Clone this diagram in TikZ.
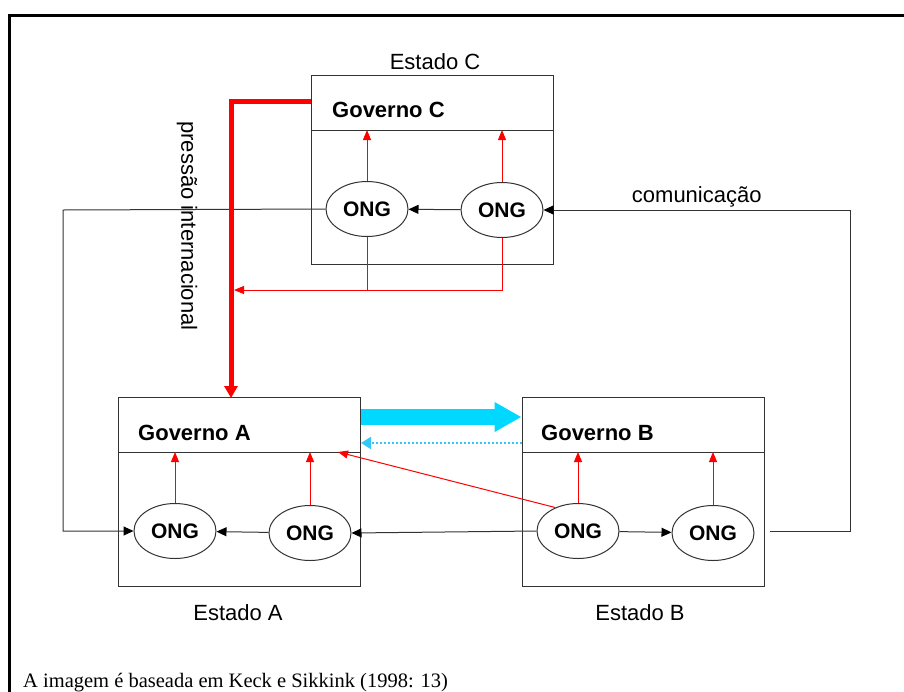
\documentclass[tikz,border=0pt]{standalone}
\usepackage{fontspec}
\setmainfont{Liberation Sans}
\newfontfamily\citefont{Liberation Serif}
\usepackage{xcolor}
\usetikzlibrary{shapes.geometric,arrows.meta,positioning,calc}
\definecolor{RV}{HTML}{FF0000}
\definecolor{CY}{HTML}{00D8FF}
\definecolor{CL}{HTML}{33C8F5}
\definecolor{LN}{HTML}{333333}

\tikzset{
  estado/.style={draw=LN, line width=1pt, minimum width=242pt,
                 minimum height=189pt, inner sep=0pt},
  ong/.style={ellipse, draw=LN, line width=1pt, minimum width=82pt,
              minimum height=55pt, inner sep=0pt,
              font=\fontsize{21}{21}\selectfont\bfseries},
  gov/.style={anchor=west, inner sep=0pt,
              font=\fontsize{22}{22}\selectfont\bfseries},
  rotulo/.style={font=\fontsize{22}{22}\selectfont},
  lig/.style={draw=LN, line width=1pt,
              -{Triangle[length=10pt,width=9pt,color=black]}},
  infl/.style={draw=RV, line width=1pt,
               -{Triangle[length=10pt,width=8pt]}},
  pressao/.style={draw=RV, line width=5pt,
                  -{Triangle[length=12pt,width=13pt]}},
}

\begin{document}
\begin{tikzpicture}[x=1pt,y=-1pt]
  \useasboundingbox (0,0) rectangle (904,691);
  \clip (0,0) rectangle (904,691);
  %% moldura
  \draw[line width=3pt] (9,710) -- (9,15) -- (920,15);

  %% os tres estados
  \node[estado] (estC) at (432,170) {};
  \node[estado] (estA) at (239.5,492) {};
  \node[estado] (estB) at (643,492) {};
  \draw[LN, line width=1pt] (311,130) -- (553,130);
  \draw[LN, line width=1pt] (119,452) -- (360,452);
  \draw[LN, line width=1pt] (522,452) -- (764,452);
  \coordinate (divC) at (311,130);
  \coordinate (divA) at (119,452);
  \coordinate (divB) at (522,452);

  \node[rotulo] (labC) at (435,62) {Estado C};
  \node[rotulo] (labA) at (238,613) {Estado A};
  \node[rotulo] (labB) at (640,613) {Estado B};

  \node[gov] (govC) at (332,110) {Governo C};
  \node[gov] (govA) at (138,433) {Governo A};
  \node[gov] (govB) at (541,433) {Governo B};

  %% ONGs
  \node[ong] (oC1) at (367,209) {ONG};
  \node[ong] (oC2) at (502,210) {ONG};
  \node[ong] (oA1) at (175,531) {ONG};
  \node[ong] (oA2) at (310,533) {ONG};
  \node[ong] (oB1) at (578,531) {ONG};
  \node[ong] (oB2) at (713,533) {ONG};

  %% ONG -> governo
  \foreach \o/\d in {oC1/divC,oC2/divC,oA1/divA,oA2/divA,oB1/divB,oB2/divB}
    \draw[infl] (\o.north) -- (\o.north |- \d);

  %% rede de comunicacao
  \coordinate (esq) at (63,210);
  \coordinate (bsai) at (770,531);
  \coordinate (dir) at (850,531);
  \draw[lig] (oC2) -- (oC1);
  \draw[lig] (oC1.west) -- (esq) |- (oA1.west);
  \draw[lig] (oA2) -- (oA1);
  \draw[lig] (oB1.west) -- (oA2.east);
  \draw[lig] (oB1) -- (oB2);
  \draw[lig] (bsai) -- (dir) |- (oC2.east)
    node[pos=0.75, above, rotulo, inner sep=2pt] (com) {comunica\c{c}\~ao};

  %% pressao internacional
  \coordinate (pC) at (311,101);
  \coordinate (pA) at (231,398);
  \coordinate (pj) at (234,290);
  \draw[pressao] (pC) -| (pA);
  \draw[infl] (oC2.south) |- (pj);
  \draw[RV, line width=1pt] (oC1.south) -- (oC1.south |- pj);
  \node[rotulo, rotate=-90] (pint) at (187,226) {press\~ao internacional};

  %% de B para A
  \coordinate (alvoA) at (338,452);
  \draw[infl] (oB1.134) -- (alvoA);
  \draw[CY, line width=16pt, -{Triangle[length=27pt,width=28pt]}]
    ([yshift=75pt]estA.east) -- ([yshift=75pt]estB.west);
  \draw[CL, line width=2pt, dotted, -{Triangle[length=10pt,width=12pt,sep=0pt]}]
    ([yshift=49pt]estB.west) -- ([yshift=49pt]estA.east);

  %% fonte
  \node[anchor=base west, inner sep=0pt,
        font=\citefont\fontsize{20.5}{20.5}\selectfont] (fonte)
    at (23,687) {A imagem é baseada em Keck e Sikkink (1998: 13)};
\end{tikzpicture}
\end{document}
